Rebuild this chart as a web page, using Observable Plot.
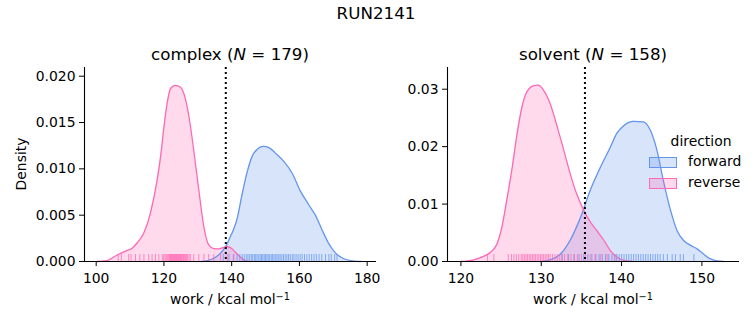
<!DOCTYPE html>
<html><head><meta charset="utf-8">
<script src="https://cdn.jsdelivr.net/npm/d3@7"></script>
<script src="https://cdn.jsdelivr.net/npm/@observablehq/plot@0.6"></script>
<style>
body{margin:0;background:#fff;font-family:"DejaVu Sans",sans-serif;}
#wrap{position:relative;width:753px;height:325px;overflow:hidden;background:#fff}
.t{position:absolute;white-space:nowrap;color:#000;transform:translate(-50%,-50%);line-height:1}
.t sup{font-size:70%;vertical-align:0.45em;line-height:0}
.patch{position:absolute;box-sizing:border-box;width:28px;height:11px}
.lt{position:absolute;white-space:nowrap;color:#000;font-size:13.9px;transform:translateY(-50%);line-height:1}
</style></head><body><div id="wrap"></div>
<script>
// ---- data ----
const suptitle = "RUN2141";
const directions = ["forward", "reverse"];
const colors = ["#6495ED", "#FF69B4"];

// complex panel (N = 179)
const complexCutoff = 138.26;
const complexFwdWork = [131,133,135,136.7,138.2,139.5,140.5,141.6,143.1,144.6,146.1,147.5,149.3,151,152.9,155.4,157.9,160.3,162.8,164.7,166.7,168.7,170.7,173.1,176,178];
const complexFwdDens = [0,0.0001,0.0004,0.0009,0.0016,0.0026,0.0034,0.0046,0.0073,0.0097,0.0114,0.0121,0.01243,0.0123,0.0117,0.0108,0.0095,0.0076,0.0061,0.0050,0.0034,0.0019,0.0009,0.0003,0.00005,0];
const complexRevWork = [100.3,103.2,106.2,108.5,110.5,112.1,114.1,116,118,119,120,121,122,123.4,124.9,125.9,127.4,128.8,130.3,131.8,133.2,134.7,136.2,137.5,138.7,140,141.1,142.6,144,145.5];
const complexRevDens = [0,0.0001,0.0007,0.0011,0.0014,0.002,0.0031,0.0052,0.0088,0.0113,0.0145,0.0172,0.0187,0.019,0.0188,0.0181,0.0156,0.012,0.0077,0.0037,0.0018,0.0014,0.00137,0.0015,0.00162,0.0014,0.001,0.00047,0.0001,0];
const complexFwdRug = [137.5,139.2,140.5,141.6,142.4,143.1,143.7,144.3,144.8,145.3,145.8,146.2,146.7,147.1,147.5,148.0,148.4,148.8,149.2,149.6,150.0,150.4,150.8,151.2,151.7,152.1,152.5,153.0,153.4,153.9,154.3,154.8,155.3,155.8,156.3,156.8,157.3,157.9,158.4,159.0,159.6,160.2,160.8,161.5,162.2,162.9,163.6,164.3,165.0,165.8,166.6,167.7,168.7,169.4,170.4,171.1];
const complexRevRug = [106.5,107.4,109.6,110.3,111.6,112.9,114.1,115.5,116.5,117.5,118.5,119.5,119.9,120.3,120.6,120.9,121.2,121.5,121.7,121.9,122.1,122.3,122.5,122.7,122.9,123.1,123.3,123.5,123.7,123.9,124.1,124.3,124.5,124.7,124.9,125.1,125.3,125.6,125.8,126.1,126.4,126.7,127.0,127.4,127.8,128.8,130.3,131.8,133.2,134.7,136.7,138.7,140.6];
const complexXTicks = [100,120,140,160,180];
const complexYTicks = [0,0.005,0.010,0.015,0.020];
const complexXDomain = [96.55,182.75];
const complexYDomain = [0,0.02094];

// solvent panel (N = 158)
const solventCutoff = 135.44;
const solventFwdWork = [129.9,131.1,132.4,133.6,134.9,136.1,137.4,138.6,139.4,140.3,141.5,142.7,143.6,144.4,145.2,146.1,146.9,147.7,148.6,149.4,150.2,151,151.9,152.7];
const solventFwdDens = [0,0.0003,0.0013,0.0037,0.0077,0.0124,0.0165,0.0199,0.0223,0.0237,0.0244,0.0243,0.0228,0.0194,0.0141,0.0089,0.0054,0.0037,0.0028,0.0022,0.0013,0.0005,0.0001,0];
const solventRevWork = [119.9,121.6,122.8,123.7,124.5,125.1,125.7,126.4,127,127.6,128.2,129,129.6,130.3,131.1,132,132.8,133.6,134.4,135.3,136.1,136.9,137.8,138.6,139.4,140.3,141.5];
const solventRevDens = [0,0.0003,0.0009,0.0016,0.0031,0.006,0.0106,0.0165,0.0223,0.0269,0.0295,0.0306,0.0307,0.0298,0.0275,0.0234,0.0194,0.0153,0.0118,0.0089,0.0069,0.0054,0.0037,0.0019,0.0008,0.0002,0];
const solventFwdRug = [132.6,133.4,134.1,134.7,135.3,135.8,136.3,136.8,137.2,137.6,138.0,138.4,138.8,139.1,139.4,139.7,140.0,140.3,140.6,140.9,141.2,141.5,141.8,142.1,142.4,142.7,143.0,143.3,143.6,143.9,144.2,144.5,144.8,145.2,145.7,146.3,146.7,147.3,147.7,149.0];
const solventRevRug = [123.3,124.1,125.9,126.3,126.6,126.9,127.2,127.5,127.7,127.9,128.1,128.3,128.5,128.7,128.9,129.1,129.3,129.5,129.7,129.9,130.1,130.3,130.5,130.7,130.9,131.1,131.4,131.7,132.0,132.3,132.6,132.9,133.3,133.7,134.1,134.5,135.0,135.5,136.1,136.7,137.4,138.2,139.3];
const solventXTicks = [120,130,140,150];
const solventYTicks = [0,0.01,0.02,0.03];
const solventXDomain = [118.33,154.68];
const solventYDomain = [0,0.03378];

// ---- build ----
const wrap = document.getElementById("wrap");
const zip = (xs, ys, dir) => xs.map((x, i) => ({work: x, density: ys[i], direction: dir}));

function panel(o) {
  const H = 325, mt = 67, mb = 64;
  const plotH = H - mt - mb;
  const curves = [zip(o.fw, o.fd, "forward"), zip(o.rw, o.rd, "reverse")];
  const rugs = [o.fr.map(v => ({work: v})), o.rr.map(v => ({work: v}))];
  const marks = [];
  curves.forEach((c, i) => {
    marks.push(Plot.areaY(c, {x: "work", y: "density", fill: colors[i], fillOpacity: 0.25, curve: "monotone-x"}));
  });
  curves.forEach((c, i) => {
    marks.push(Plot.lineY(c, {x: "work", y: "density", stroke: colors[i], strokeWidth: 1.3, curve: "monotone-x"}));
  });
  rugs.forEach((r, i) => {
    marks.push(Plot.ruleX(r, {x: "work", stroke: colors[i], strokeOpacity: 0.75, strokeWidth: 1, insetTop: plotH - 7}));
  });
  marks.push(Plot.ruleX([o.cut], {stroke: "black", strokeWidth: 2, strokeDasharray: "2,3"}));
  marks.push(Plot.axisX({ticks: o.xt, tickSize: 5, tickPadding: 7, label: null, tickFormat: d3.format("d")}));
  marks.push(Plot.axisY({ticks: o.yt, tickSize: 5, tickPadding: 4, label: null, tickFormat: d3.format(o.yf)}));
  marks.push(Plot.ruleX([o.xd[0]], {stroke: "black", strokeWidth: 1.1}));
  marks.push(Plot.ruleY([o.yd[0]], {stroke: "black", strokeWidth: 1.1}));
  const svg = Plot.plot({
    width: o.w, height: H, marginLeft: o.ml, marginRight: o.mr, marginTop: mt, marginBottom: mb,
    x: {domain: o.xd}, y: {domain: o.yd},
    style: {fontSize: "13.9px", fontFamily: "DejaVu Sans", color: "black", background: "transparent", overflow: "visible"},
    marks
  });
  svg.style.position = "absolute";
  svg.style.left = o.left + "px";
  svg.style.top = "0px";
  wrap.appendChild(svg);
}

panel({left: 0, w: 380, ml: 84, mr: 4, fw: complexFwdWork, fd: complexFwdDens, rw: complexRevWork, rd: complexRevDens,
  fr: complexFwdRug, rr: complexRevRug, cut: complexCutoff, xt: complexXTicks, yt: complexYTicks, yf: ".3f", xd: complexXDomain, yd: complexYDomain});
panel({left: 380, w: 373, ml: 67, mr: 14, fw: solventFwdWork, fd: solventFwdDens, rw: solventRevWork, rd: solventRevDens,
  fr: solventFwdRug, rr: solventRevRug, cut: solventCutoff, xt: solventXTicks, yt: solventYTicks, yf: ".2f", xd: solventXDomain, yd: solventYDomain});

function text(html, x, y, size, extra) {
  const d = document.createElement("div");
  d.className = "t";
  d.innerHTML = html;
  d.style.left = x + "px"; d.style.top = y + "px"; d.style.fontSize = size + "px";
  if (extra) d.style.transform = extra;
  wrap.appendChild(d);
}
text(suptitle, 376, 13, 16.7);
text("complex (<i>N</i> = 179)", 230, 54, 16.7);
text("solvent (<i>N</i> = 158)", 593, 54, 16.7);
text("Density", 22, 164, 13.9, "translate(-50%,-50%) rotate(-90deg)");
text("work / kcal mol<sup>\u22121</sup>", 230, 300, 13.9);
text("work / kcal mol<sup>\u22121</sup>", 593, 300, 13.9);

// legend
text("direction", 701, 142, 13.9);
directions.forEach((d, i) => {
  const y = 162 + i * 21;
  const p = document.createElement("div");
  p.className = "patch";
  p.style.left = "649px"; p.style.top = (y - 5.5) + "px";
  p.style.border = "1px solid " + colors[i];
  p.style.background = d3.color(colors[i]).copy({opacity: 0.25}).formatRgb();
  wrap.appendChild(p);
  const l = document.createElement("div");
  l.className = "lt";
  l.textContent = d;
  l.style.left = "688px"; l.style.top = y + "px";
  wrap.appendChild(l);
});
</script></body></html>
